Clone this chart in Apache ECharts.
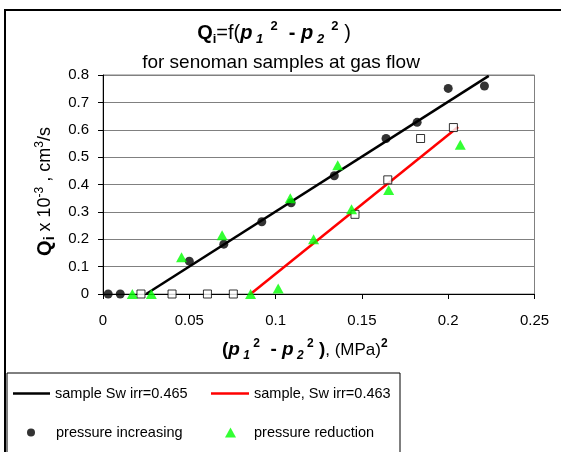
<!DOCTYPE html>
<html>
<head>
<meta charset="utf-8">
<script src="https://cdn.jsdelivr.net/npm/echarts@6/dist/echarts.min.js"></script>
<style>
  html, body { margin: 0; padding: 0; background: #fff; }
  #chart { width: 561px; height: 452px; }
</style>
</head>
<body>
<div id="chart"></div>
<script>
// Axis ranges and tick spacing
const xRange = [0, 0.25], xStep = 0.05;
const yRange = [0, 0.8], yStep = 0.1;

// Series names (legend labels)
const nameFit465 = 'sample Sw irr=0.465';
const nameFit463 = 'sample, Sw irr=0.463';
const nameIncrease = 'pressure increasing';
const nameReduction = 'pressure reduction';

// Pressure increasing (filled circles)
const incX = [0.003, 0.010, 0.050, 0.070, 0.092, 0.109, 0.134, 0.164, 0.182, 0.200, 0.221];
const incY = [0, 0, 0.120, 0.182, 0.264, 0.333, 0.432, 0.568, 0.627, 0.751, 0.760];

// Pressure reduction (green triangles)
const redX = [0.017, 0.028, 0.0455, 0.069, 0.0855, 0.1015, 0.1085, 0.122, 0.136, 0.144, 0.1655, 0.207];
const redY = [0, 0, 0.134, 0.215, 0, 0.020, 0.350, 0.200, 0.470, 0.310, 0.380, 0.545];

// Second sample (open squares)
const sqX = [0.022, 0.040, 0.0605, 0.0755, 0.146, 0.165, 0.184, 0.203];
const sqY = [0, 0, 0, 0, 0.291, 0.417, 0.568, 0.608];

// Trend lines
const fit465X = [0.025, 0.2235];
const fit465Y = [0, 0.797];
const fit463X = [0.0855, 0.2057];
const fit463Y = [0, 0.610];

const zip = (xs, ys) => xs.map((x, i) => [x, ys[i]]);

const FONT = 'Liberation Sans';

const richTitle = {
  b:   { fontFamily: FONT, fontWeight: 'bold', fontSize: 20, lineHeight: 26, color: '#000' },
  n:   { fontFamily: FONT, fontSize: 20, lineHeight: 26, color: '#000' },
  bi:  { fontFamily: FONT, fontWeight: 'bold', fontStyle: 'italic', fontSize: 20, lineHeight: 26, color: '#000' },
  sub: { fontFamily: FONT, fontWeight: 'bold', fontStyle: 'italic', fontSize: 13, verticalAlign: 'bottom', color: '#000' },
  subn:{ fontFamily: FONT, fontWeight: 'bold', fontSize: 13, verticalAlign: 'bottom', color: '#000' },
  sup: { fontFamily: FONT, fontWeight: 'bold', fontSize: 13, verticalAlign: 'top', color: '#000' }
};

const richAxis = {
  b:   { fontFamily: FONT, fontWeight: 'bold', fontSize: 19, lineHeight: 24, color: '#000' },
  bq:  { fontFamily: FONT, fontWeight: 'bold', fontSize: 20, lineHeight: 24, color: '#000' },
  bi:  { fontFamily: FONT, fontWeight: 'bold', fontStyle: 'italic', fontSize: 19, lineHeight: 24, color: '#000' },
  sub: { fontFamily: FONT, fontWeight: 'bold', fontStyle: 'italic', fontSize: 12, verticalAlign: 'bottom', color: '#000' },
  subn:{ fontFamily: FONT, fontWeight: 'bold', fontSize: 14, verticalAlign: 'bottom', color: '#000' },
  sup: { fontFamily: FONT, fontWeight: 'bold', fontSize: 12, verticalAlign: 'top', color: '#000' },
  supn:{ fontFamily: FONT, fontSize: 12, verticalAlign: 'top', color: '#000' },
  m:   { fontFamily: FONT, fontSize: 17, lineHeight: 24, color: '#000' },
  my:  { fontFamily: FONT, fontSize: 18, lineHeight: 24, color: '#000' }
};

const chart = echarts.init(document.getElementById('chart'), null, { renderer: 'canvas' });

const legendText = { fontFamily: FONT, fontSize: 14.5, color: '#000' };
const legendBase = { padding: 0, itemGap: 0, selectedMode: false, textStyle: legendText };

chart.setOption({
  animation: false,
  backgroundColor: '#fff',
  grid: {
    left: 103, right: 26.5, top: 75, bottom: 158,
    show: true, borderColor: '#808080', borderWidth: 1,
    outerBoundsMode: 'none'
  },
  xAxis: {
    type: 'value', min: xRange[0], max: xRange[1], interval: xStep,
    axisLine: { lineStyle: { color: '#000', width: 1 } },
    axisTick: { show: true, inside: false, length: 5, lineStyle: { color: '#000' } },
    axisLabel: { color: '#000', fontFamily: FONT, fontSize: 15, margin: 19, showMinLabel: true, showMaxLabel: true },
    splitLine: { show: false },
    name: '{b|(}{bi|p}{sub| 1}{sup| 2}{b|  - }{bi|p}{sub| 2}{sup| 2}{b| )}{m|, (MPa)}{sup|2}',
    nameLocation: 'middle', nameGap: 44,
    nameTextStyle: { rich: richAxis, padding: [0, 28, 0, 0] }
  },
  yAxis: {
    type: 'value', min: yRange[0], max: yRange[1], interval: yStep,
    axisLine: { show: true, lineStyle: { color: '#000', width: 1 } },
    axisTick: { show: true, inside: false, length: 5, lineStyle: { color: '#000' } },
    axisLabel: { color: '#000', fontFamily: FONT, fontSize: 15, margin: 14 },
    splitLine: { show: true, lineStyle: { color: '#808080', width: 1 } },
    name: '{bq|Q}{subn|i}{my| x 10}{supn|-3}{my| , cm}{supn|3}{my|/s}',
    nameLocation: 'middle', nameRotate: 90, nameGap: 35,
    nameTextStyle: { rich: richAxis, padding: [0, 14, 0, 0] }
  },
  legend: [
    Object.assign({}, legendBase, { data: [{ name: nameFit465, icon: 'rect', itemStyle: { color: '#000' } }],
      left: 13, top: 386, itemWidth: 37, itemHeight: 2.5 }),
    Object.assign({}, legendBase, { data: [{ name: nameFit463, icon: 'rect', itemStyle: { color: '#ff0000' } }],
      left: 211, top: 386, itemWidth: 38, itemHeight: 2.5 }),
    Object.assign({}, legendBase, { data: [{ name: nameIncrease, icon: 'circle' }],
      left: 27, top: 425, itemWidth: 8, itemHeight: 8,
      textStyle: Object.assign({}, legendText, { padding: [0, 0, 0, 16] }) }),
    Object.assign({}, legendBase, { data: [{ name: nameReduction, icon: 'triangle' }],
      left: 225, top: 425, itemWidth: 11, itemHeight: 10,
      textStyle: Object.assign({}, legendText, { padding: [0, 0, 0, 13] }) })
  ],
  graphic: [
    // outer chart frame
    { type: 'rect', z: 100, shape: { x: 5, y: 10, width: 700, height: 600 },
      style: { fill: 'none', stroke: '#000', lineWidth: 2 } },
    // legend frame
    { type: 'rect', z: 100, shape: { x: 7, y: 373, width: 393, height: 100 },
      style: { fill: 'none', stroke: '#000', lineWidth: 1 } },
    // main title
    { type: 'text', z: 100, x: 274, y: 33,
      style: {
        text: '{b|Q}{subn|i}{n|=f(}{bi|p}{sub| 1}{sup|  2}{b|  - }{bi|p}{sub| 2}{sup|  2}{n| )}',
        rich: richTitle, align: 'center', verticalAlign: 'middle'
      } },
    // subtitle
    { type: 'text', z: 100, x: 281, y: 63,
      style: {
        text: 'for senoman samples at gas flow',
        fontFamily: FONT, fontSize: 19, fill: '#000', align: 'center', verticalAlign: 'middle'
      } }
  ],
  series: [
    {
      name: nameFit465, type: 'line', data: zip(fit465X, fit465Y),
      symbol: 'none', lineStyle: { color: '#000', width: 2.5 }, itemStyle: { color: '#000' }, z: 2
    },
    {
      name: nameFit463, type: 'line', data: zip(fit463X, fit463Y),
      symbol: 'none', lineStyle: { color: '#ff0000', width: 2.5 }, itemStyle: { color: '#ff0000' }, z: 2
    },
    {
      name: 'squares', type: 'scatter', data: zip(sqX, sqY),
      symbol: 'rect', symbolSize: 8,
      itemStyle: { color: '#fff', borderColor: '#000', borderWidth: 1 }, z: 3
    },
    {
      name: nameIncrease, type: 'scatter', data: zip(incX, incY),
      symbol: 'circle', symbolSize: 9,
      itemStyle: { color: '#000' }, z: 4
    },
    {
      name: nameReduction, type: 'scatter', data: zip(redX, redY),
      symbol: 'triangle', symbolSize: [11, 10],
      itemStyle: { color: '#00ff00' }, z: 5
    }
  ]
});
</script>
</body>
</html>
